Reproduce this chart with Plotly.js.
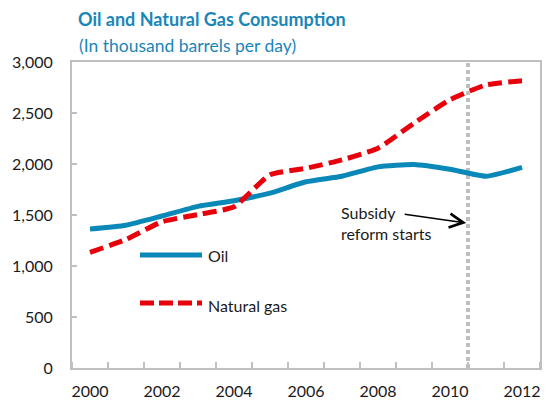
<!DOCTYPE html>
<html>
<head>
<meta charset="utf-8">
<script src="https://cdn.plot.ly/plotly-3.0.1.min.js"></script>
<style>html,body{margin:0;padding:0;background:#fff;}#chart{width:548px;height:402px;}</style>
</head>
<body>
<div id="chart"></div>
<script>
const years = [2000,2001,2002,2003,2004,2005,2006,2007,2008,2009,2010,2011,2012];
const oil = [1363,1400,1490,1585,1640,1715,1826,1880,1972,1995,1948,1880,1967];
const naturalGas = [1134,1260,1434,1505,1580,1895,1958,2040,2155,2400,2630,2775,2817];
const xTickLabels = ['2000','2002','2004','2006','2008','2010','2012'];
const xTickVals = [2000,2002,2004,2006,2008,2010,2012];
const reformYear = 2010.5;

const BLUE = '#0a88b8';
const RED = '#e8000b';
const GRAY = '#bfbfbf';
const FONT = 'Lato, "Open Sans", sans-serif';

const traces = [
  {x: years, y: oil, name: 'Oil', type: 'scatter', mode: 'lines',
   line: {color: BLUE, width: 5, shape: 'spline', smoothing: 0.5}, showlegend: false},
  {x: years, y: naturalGas, name: 'Natural gas', type: 'scatter', mode: 'lines',
   line: {color: RED, width: 5, dash: '14px,6px', shape: 'spline', smoothing: 0.5}, showlegend: false}
];

const layout = {
  width: 548, height: 402,
  margin: {l: 72, r: 8, t: 62, b: 34},
  paper_bgcolor: '#fff', plot_bgcolor: '#fff',
  font: {family: FONT, size: 16, color: '#1a1a1a'},
  title: {text: '<b>Oil and Natural Gas Consumption</b>', x: 78/548, xanchor: 'left', xref: 'container',
          y: 1 - 20/402, yanchor: 'middle', yref: 'container',
          font: {family: FONT, size: 18, color: '#1a86b8'}},
  xaxis: {range: [1999.5, 2012.5], tickvals: xTickVals, ticktext: xTickLabels, ticks: '',
          showgrid: false, zeroline: false, showline: true, linecolor: GRAY, linewidth: 2, mirror: true,
          ticklabelstandoff: 8, tickfont: {size: 16},
          minor: {tick0: 1999.5, dtick: 1, ticks: 'inside', ticklen: 6, tickwidth: 2, tickcolor: GRAY, showgrid: false}},
  yaxis: {range: [0, 3000], dtick: 500, tick0: 0, tickformat: ',', ticks: 'inside', ticklen: 5, tickwidth: 2, tickcolor: GRAY,
          showgrid: false, zeroline: false, showline: true, linecolor: GRAY, linewidth: 2, mirror: true,
          ticklabelstandoff: 14, tickfont: {size: 16}},
  shapes: [
    {type: 'line', xref: 'x', yref: 'paper', x0: reformYear, x1: reformYear, y0: 0, y1: 1,
     line: {color: GRAY, width: 4, dash: '4px,3px'}, layer: 'below'},
    {type: 'line', xref: 'paper', yref: 'paper', x0: (140-72)/468, x1: (202-72)/468, y0: (368-255)/306, y1: (368-255)/306,
     line: {color: BLUE, width: 5}},
    {type: 'line', xref: 'paper', yref: 'paper', x0: (140-72)/468, x1: (202-72)/468, y0: (368-303)/306, y1: (368-303)/306,
     line: {color: RED, width: 5, dash: '14px,5px'}}
  ],
  annotations: [
    {text: '(In thousand barrels per day)', xref: 'paper', yref: 'paper', x: (77-72)/468, y: (368-46)/306,
     xanchor: 'left', yanchor: 'middle', showarrow: false, font: {family: FONT, size: 17.5, color: '#1a86b8'}},
    {text: 'Oil', xref: 'paper', yref: 'paper', x: (206-72)/468, y: (368-255)/306, xanchor: 'left', yanchor: 'middle', showarrow: false},
    {text: 'Natural gas', xref: 'paper', yref: 'paper', x: (206-72)/468, y: (368-305)/306, xanchor: 'left', yanchor: 'middle', showarrow: false},
    {text: 'Subsidy<br>reform starts', xref: 'x', yref: 'y', x: 2006.92, y: 1417, xanchor: 'left', yanchor: 'middle',
     align: 'left', showarrow: false},
    {text: '', xref: 'x', yref: 'y', x: 2010.45, y: 1422, axref: 'x', ayref: 'y', ax: 2008.7, ay: 1510,
     showarrow: true, arrowhead: 5, arrowsize: 1.7, arrowwidth: 1.6, arrowcolor: '#000'}
  ]
};

Plotly.newPlot('chart', traces, layout, {displayModeBar: false, staticPlot: true});
</script>
</body>
</html>
